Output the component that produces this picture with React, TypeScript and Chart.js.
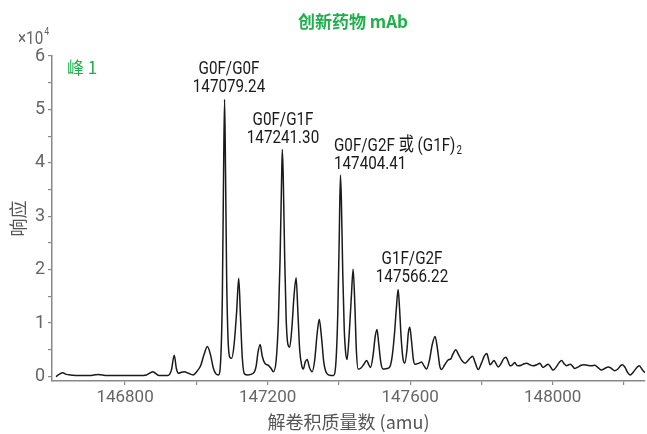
import React, { useEffect, useRef } from 'react';
import { Chart, registerables } from 'chart.js';

Chart.register(...registerables);

// Deconvoluted mass (amu) and response (×10^4)
const masses: number[] = [
  146606, 146615, 146625, 146635, 146646, 146674, 146700, 146724, 146750, 146800,
  146842, 146860, 146878, 146895, 146920, 146930, 146938, 146944, 146950, 146958,
  146966, 146978, 146991, 147002, 147012, 147022, 147031, 147040, 147048, 147055,
  147062, 147069, 147073, 147076, 147079.24, 147082, 147085, 147089, 147094, 147099,
  147106, 147113, 147119, 147124, 147129, 147135, 147145, 147160, 147168, 147173,
  147179, 147185, 147192, 147202, 147210, 147216, 147224, 147230, 147235, 147239,
  147241.3, 147244, 147248, 147252, 147257, 147262, 147268, 147274, 147280, 147285,
  147290, 147296, 147300, 147306, 147311, 147317, 147325, 147332, 147339, 147345,
  147351, 147358, 147366, 147377, 147385, 147392, 147397, 147401, 147404.41, 147407,
  147411, 147415, 147419, 147423, 147429, 147435, 147440, 147445, 147449, 147454,
  147462, 147471, 147478, 147484, 147489, 147496, 147502, 147507, 147512, 147518,
  147524, 147535, 147543, 147550, 147556, 147561, 147566.22, 147570, 147575, 147580,
  147585, 147591, 147595, 147599, 147604, 147609, 147613, 147625, 147632, 147639,
  147646, 147654, 147662, 147670, 147677, 147683, 147688, 147697, 147707, 147714,
  147720, 147728, 147735, 147745, 147754, 147765, 147775, 147783, 147791, 147800,
  147808, 147815, 147820, 147824, 147829, 147835, 147841, 147847, 147855, 147862,
  147869, 147875, 147880, 147887, 147894, 147898, 147903, 147912, 147920, 147927,
  147936, 147945, 147955, 147964, 147969, 147973, 147980, 147987, 147994, 148001,
  148010, 148018, 148025, 148032, 148039, 148045, 148050, 148056, 148062, 148072,
  148080, 148087, 148097, 148109, 148118, 148128, 148137, 148146, 148156, 148165,
  148174, 148183, 148190, 148196, 148203, 148210, 148217, 148226, 148235, 148243,
  148251, 148259,
];

const responses: number[] = [
  0.0, 0.04, 0.07, 0.04, 0.03, 0.02, 0.02, 0.04, 0.02, 0.02,
  0.02, 0.03, 0.09, 0.02, 0.02, 0.12, 0.40, 0.15, 0.06, 0.08,
  0.09, 0.06, 0.03, 0.10, 0.20, 0.42, 0.56, 0.40, 0.15, 0.05,
  0.03, 0.40, 1.50, 3.50, 5.19, 3.80, 1.90, 0.70, 0.36, 0.34,
  0.60, 1.20, 1.84, 1.10, 0.35, 0.05, 0.03, 0.06, 0.20, 0.45,
  0.60, 0.38, 0.25, 0.21, 0.15, 0.09, 0.30, 1.00, 2.20, 3.60,
  4.25, 3.70, 2.20, 1.10, 0.60, 0.55, 0.90, 1.50, 1.85, 1.20,
  0.50, 0.20, 0.14, 0.28, 0.32, 0.18, 0.09, 0.30, 0.80, 1.07,
  0.75, 0.25, 0.06, 0.02, 0.02, 0.30, 1.20, 2.60, 3.77, 3.30,
  1.90, 0.90, 0.45, 0.32, 0.80, 1.50, 2.01, 1.30, 0.50, 0.14,
  0.16, 0.24, 0.30, 0.22, 0.17, 0.40, 0.75, 0.88, 0.60, 0.25,
  0.14, 0.15, 0.18, 0.40, 0.80, 1.25, 1.63, 1.30, 0.70, 0.33,
  0.25, 0.50, 0.82, 0.92, 0.65, 0.32, 0.23, 0.25, 0.27, 0.20,
  0.14, 0.30, 0.60, 0.75, 0.50, 0.20, 0.13, 0.22, 0.31, 0.33,
  0.42, 0.50, 0.42, 0.30, 0.25, 0.32, 0.38, 0.25, 0.13, 0.25,
  0.38, 0.43, 0.32, 0.22, 0.25, 0.30, 0.24, 0.18, 0.24, 0.33,
  0.36, 0.28, 0.20, 0.22, 0.26, 0.22, 0.20, 0.21, 0.24, 0.25,
  0.22, 0.20, 0.22, 0.25, 0.20, 0.17, 0.20, 0.23, 0.18, 0.12,
  0.18, 0.26, 0.30, 0.24, 0.20, 0.22, 0.23, 0.19, 0.15, 0.18,
  0.21, 0.22, 0.21, 0.20, 0.21, 0.16, 0.12, 0.15, 0.18, 0.15,
  0.11, 0.14, 0.20, 0.22, 0.17, 0.08, 0.03, 0.08, 0.16, 0.20,
  0.13, 0.07,
];

const xTickValues: number[] = [146800, 147000, 147200, 147400, 147600, 147800, 148000, 148200];
const xTickLabels: string[] = ['146800', '', '147200', '', '147600', '', '148000', ''];
const yTickValues: number[] = [0, 0.5, 1, 1.5, 2, 2.5, 3, 3.5, 4, 4.5, 5, 5.5, 6];
const yTickLabels: string[] = ['0', '', '1', '', '2', '', '3', '', '4', '', '5', '', '6'];

const chartTitle = '创新药物 mAb';
const peakName = '峰 1';
const xAxisTitle = '解卷积质量数 (amu)';
const yAxisTitle = '响应';
const peakLabelNames: string[] = ['G0F/G0F', 'G0F/G1F', 'G0F/G2F 或 (G1F)', 'G1F/G2F'];
const peakLabelMasses: string[] = ['147079.24', '147241.30', '147404.41', '147566.22'];

const NARROW = 'Roboto, "Noto Sans CJK SC", sans-serif';
const CJK = '"Noto Sans CJK SC", "Noto Sans", sans-serif';
const GREEN = '#1fb04b';
const GRAY = '#666666';
const SQUEEZE = 0.8;

function condensedText(
  ctx: CanvasRenderingContext2D,
  text: string,
  x: number,
  y: number,
  align: 'left' | 'center',
): number {
  const w = ctx.measureText(text).width * SQUEEZE;
  const left = align === 'center' ? x - w / 2 : x;
  ctx.save();
  ctx.translate(left, y);
  ctx.scale(SQUEEZE, 1);
  ctx.textAlign = 'left';
  ctx.fillText(text, 0, 0);
  ctx.restore();
  return w;
}

const textPlugin = {
  id: 'annotTexts',
  afterDraw(chart: any) {
    const ctx = chart.ctx as CanvasRenderingContext2D;
    ctx.save();
    ctx.textBaseline = 'middle';

    // Title
    ctx.fillStyle = GREEN;
    ctx.font = `bold 17px ${CJK}`;
    ctx.textAlign = 'center';
    ctx.fillText(chartTitle, 353, 22);

    // Peak 1 label
    ctx.font = `17px ${CJK}`;
    ctx.textAlign = 'left';
    ctx.fillText(peakName, 67, 68);

    // ×10^4 multiplier
    ctx.fillStyle = GRAY;
    ctx.font = `19px ${NARROW}`;
    const w = condensedText(ctx, '×10', 18, 39, 'left');
    ctx.font = `11px ${NARROW}`;
    condensedText(ctx, '4', 18 + w + 1, 32, 'left');

    // Peak annotations
    ctx.fillStyle = '#1a1a1a';
    ctx.font = `19px ${NARROW}`;
    const centered: [number, number, number][] = [
      [0, 229, 69],
      [1, 283, 120],
      [3, 412, 259],
    ];
    for (const [i, x, y] of centered) {
      condensedText(ctx, peakLabelNames[i], x, y, 'center');
      condensedText(ctx, peakLabelMasses[i], x, y + 18, 'center');
    }
    const w2 = condensedText(ctx, peakLabelNames[2], 334, 146, 'left');
    condensedText(ctx, peakLabelMasses[2], 334, 164, 'left');
    ctx.font = `12px ${NARROW}`;
    condensedText(ctx, '2', 334 + w2 + 1, 151, 'left');

    ctx.restore();
  },
};

export default function App() {
  const ref = useRef<HTMLCanvasElement>(null);

  useEffect(() => {
    if (!ref.current) return;
    const data = masses.map((m, i) => ({ x: m, y: responses[i] }));
    const chart = new Chart(ref.current, {
      type: 'line',
      data: {
        datasets: [
          {
            data,
            borderColor: '#1a1a1a',
            borderWidth: 1.5,
            pointRadius: 0,
            fill: false,
            cubicInterpolationMode: 'monotone',
          },
        ],
      },
      options: {
        animation: false,
        responsive: false,
        devicePixelRatio: 1,
        layout: { padding: { top: 56, right: 2, left: 0, bottom: 0 } },
        plugins: {
          legend: { display: false },
          tooltip: { enabled: false },
          title: { display: false },
        },
        scales: {
          x: {
            type: 'linear',
            min: 146595,
            max: 148259,
            afterBuildTicks: (s: any) => {
              s.ticks = xTickValues.map((v) => ({ value: v }));
            },
            afterFit: (s: any) => {
              s.height = 53;
            },
            ticks: {
              autoSkip: false,
              maxRotation: 0,
              padding: 3,
              color: GRAY,
              font: { family: NARROW, size: 17 },
              callback: (v: any) => {
                const idx = xTickValues.indexOf(Number(v));
                return idx >= 0 ? xTickLabels[idx] : '';
              },
            },
            grid: {
              display: true,
              drawOnChartArea: false,
              drawTicks: true,
              tickLength: 4,
              color: '#888888',
              lineWidth: 1.2,
            },
            border: { display: true, color: '#888888', width: 1.5 },
            title: {
              display: true,
              text: xAxisTitle,
              color: '#555555',
              font: { family: CJK, size: 18 },
              padding: { top: 0, bottom: 1 },
            },
          },
          y: {
            type: 'linear',
            min: -0.084,
            max: 6,
            afterBuildTicks: (s: any) => {
              s.ticks = yTickValues.map((v) => ({ value: v }));
            },
            afterFit: (s: any) => {
              s.width = 52;
            },
            ticks: {
              autoSkip: false,
              padding: 3,
              color: GRAY,
              font: { family: NARROW, size: 18 },
              callback: (v: any) => {
                const idx = yTickValues.indexOf(Number(v));
                return idx >= 0 ? yTickLabels[idx] : '';
              },
            },
            grid: {
              display: true,
              drawOnChartArea: false,
              drawTicks: true,
              tickLength: 4,
              color: '#888888',
              lineWidth: 1.2,
            },
            border: { display: true, color: '#888888', width: 1.5 },
            title: {
              display: true,
              text: yAxisTitle,
              color: '#555555',
              font: { family: CJK, size: 18 },
              padding: { top: 7, bottom: 0 },
            },
          },
        },
      },
      plugins: [textPlugin],
    } as any);
    return () => chart.destroy();
  }, []);

  return (
    <div style={{ position: 'absolute', left: 0, top: 0, width: 647, height: 434, background: '#ffffff' }}>
      <canvas ref={ref} width={647} height={434} style={{ display: 'block', width: 647, height: 434 }} />
    </div>
  );
}
